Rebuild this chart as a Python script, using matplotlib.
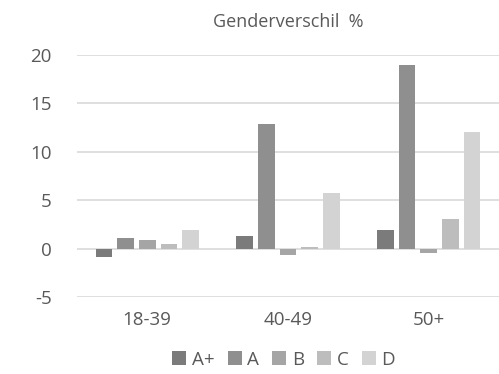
import numpy as np
import matplotlib.pyplot as plt

plt.rcParams['font.family'] = ['Open Sans', 'DejaVu Sans']
plt.rcParams['axes.unicode_minus'] = False

groups = ['18-39', '40-49', '50+']
series = ['A+', 'A', 'B', 'C', 'D']
vals_aplus = [-0.85, 1.3, 1.9]
vals_a = [1.15, 12.9, 19.0]
vals_b = [0.9, -0.6, -0.4]
vals_c = [0.55, 0.2, 3.1]
vals_d = [1.9, 5.8, 12.1]
colors = ['#7b7b7b', '#8f8f8f', '#a5a5a5', '#bdbdbd', '#d3d3d3']

all_vals = [vals_aplus, vals_a, vals_b, vals_c, vals_d]

fig = plt.figure(figsize=(4.99, 3.74), dpi=100)
ax = fig.add_axes([0.154, 0.205, 0.846, 0.648])

x = np.arange(len(groups))
width = 0.118
step = 0.154
for i, (name, v) in enumerate(zip(series, all_vals)):
    ax.bar(x + (i - 2) * step, v, width, color=colors[i], label=name, zorder=3)

ax.set_xlim(-0.5, 2.5)
ax.set_ylim(-5, 20)
ax.set_yticks([-5, 0, 5, 10, 15, 20])
ax.set_xticks(x)
ax.set_xticklabels(groups)
ax.yaxis.grid(True, color='#d9d9d9', linewidth=1.2, zorder=0)
for s in ax.spines.values():
    s.set_visible(False)
ax.tick_params(axis='both', length=0, labelsize=13.5, colors='#595959')
ax.tick_params(axis='x', pad=10)
ax.tick_params(axis='y', pad=18)

ax.set_title('Genderverschil  %', fontsize=13, color='#595959', pad=20)

ax.legend(loc='upper center', bbox_to_anchor=(0.49, -0.15), ncol=5, frameon=False,
          fontsize=13.5, labelcolor='#595959', handlelength=0.75, handleheight=0.75,
          handletextpad=0.3, columnspacing=0.7)

fig.savefig('out.png', dpi=100)
